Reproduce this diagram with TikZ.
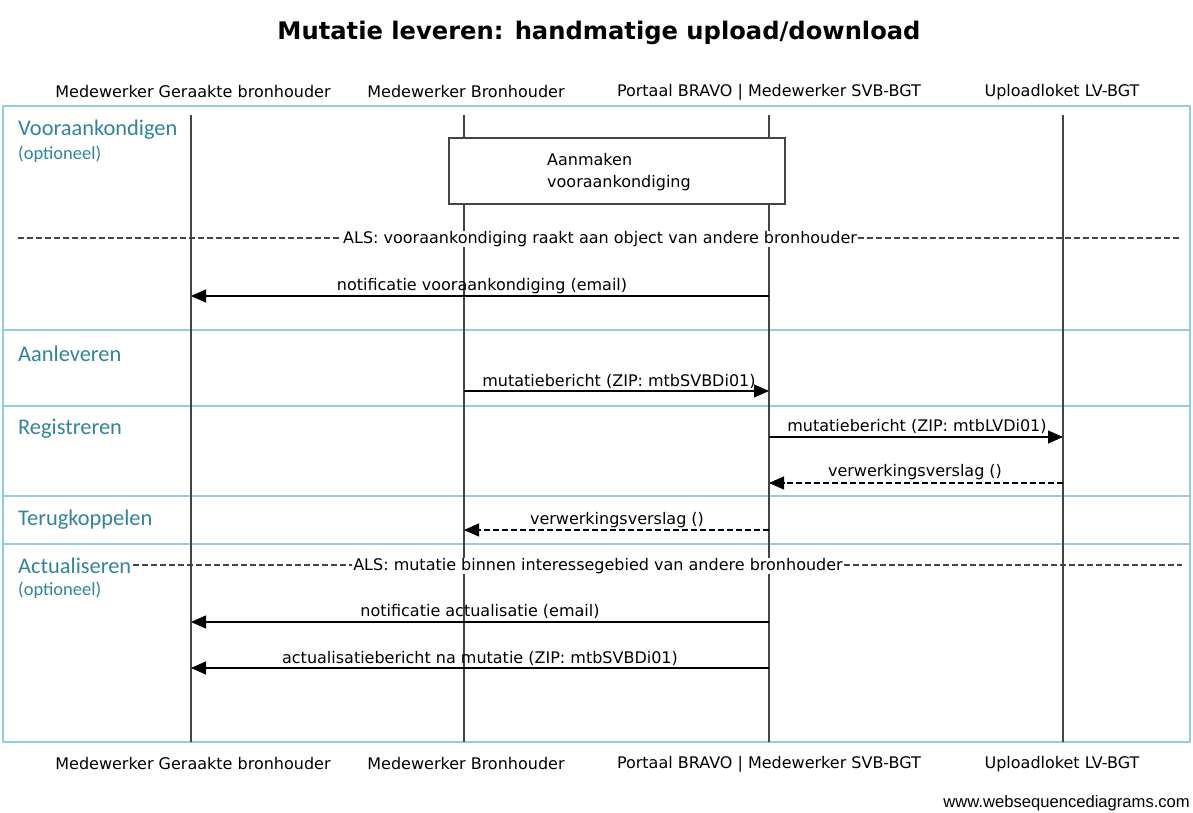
\documentclass[tikz,border=0pt]{standalone}
\usepackage{fontspec}
\setmainfont{DejaVu Sans}
\newfontfamily\secfont{Carlito}
\newfontfamily\footfont{Liberation Sans}
\usetikzlibrary{arrows.meta}
\definecolor{frameblue}{HTML}{92CDDC}
\definecolor{secteal}{HTML}{31849B}
\definecolor{linegray}{HTML}{444444}
\tikzset{
  lifeline/.style={draw=linegray, line width=1.3pt},
  partlabel/.style={font=\fontsize{16}{18}\selectfont, inner sep=0pt, anchor=center},
  msg/.style={draw=black, line width=1.1pt, -{Triangle[length=15pt,width=13pt]}},
  reply/.style={msg, dash pattern=on 6pt off 3pt},
  msglabel/.style={font=\fontsize{16}{18}\selectfont, inner sep=0pt, anchor=center},
  altline/.style={draw=linegray, line width=1.1pt, dash pattern=on 6pt off 3pt},
  seclabel/.style={font=\secfont\fontsize{22.4}{24}\selectfont, text=secteal, inner sep=0pt, anchor=west},
  secsub/.style={font=\secfont\fontsize{18.5}{20}\selectfont, text=secteal, inner sep=0pt, anchor=west},
  sep/.style={draw=frameblue, line width=1.5pt},
}
\begin{document}
\begin{tikzpicture}[x=1pt,y=-1pt]
\useasboundingbox (0,0) rectangle (1193,813);
% title
\node[font=\bfseries\fontsize{24.2}{28}\selectfont, inner sep=0pt] (title) at (599,33) {Mutatie leveren: handmatige upload/download};
% frame
\draw[sep] (3,106) rectangle (1190,742);
\foreach \yy in {330,406,496,544} \draw[sep] (3,\yy) -- (1190,\yy);
% lifelines
\foreach \n/\xx in {a/191,b/464,c/769,d/1063} {
  \coordinate (\n top) at (\xx,115);
  \coordinate (\n bot) at (\xx,742);
  \draw[lifeline] (\n top) -- (\n bot);
}
% participant labels
\node[partlabel] (pa1) at (193,92) {Medewerker Geraakte bronhouder};
\node[partlabel] (pb1) at (466,92) {Medewerker Bronhouder};
\node[partlabel] (pc1) at (769,92) {Portaal BRAVO | Medewerker SVB-BGT};
\node[partlabel] (pd1) at (1062,92) {Uploadloket LV-BGT};
\node[partlabel] (pa2) at (193,764) {Medewerker Geraakte bronhouder};
\node[partlabel] (pb2) at (466,764) {Medewerker Bronhouder};
\node[partlabel] (pc2) at (769,764) {Portaal BRAVO | Medewerker SVB-BGT};
\node[partlabel] (pd2) at (1062,764) {Uploadloket LV-BGT};
% section labels
\node[seclabel] (s1) at (18,130) {Vooraankondigen};
\node[secsub] (s1b) at (18,154) {(optioneel)};
\node[seclabel] (s2) at (18,354) {Aanleveren};
\node[seclabel] (s3) at (18,429) {Registreren};
\node[seclabel] (s4) at (18,520) {Terugkoppelen};
\node[seclabel] (s5) at (18,566) {Actualiseren};
\node[secsub] (s5b) at (18,590) {(optioneel)};
% action box
\node[draw=linegray, line width=1.1pt, fill=white, minimum width=336pt, minimum height=66pt, inner sep=0pt] (box) at (617,171) {};
\node[font=\fontsize{16}{22}\selectfont, align=left, anchor=west, inner sep=0pt] (boxtxt) at (547,172) {Aanmaken\\vooraankondiging};
% alt 1
\node[msglabel, fill=white, inner xsep=1pt] (alt1) at (600,239) {ALS: vooraankondiging raakt aan object van andere bronhouder};
\coordinate (alt1l) at (18,238);
\coordinate (alt1r) at (1182,238);
\draw[altline] (alt1l) -- (alt1l -| alt1.west);
\draw[altline] (alt1r -| alt1.east) -- (alt1r);
% messages
\coordinate (m1s) at (769,296); \coordinate (m1e) at (191,296);
\draw[msg] (m1s) -- (m1e);
\node[msglabel] (l1) at (482,286) {notificatie vooraankondiging (email)};
\coordinate (m2s) at (464,391); \coordinate (m2e) at (769,391);
\draw[msg] (m2s) -- (m2e);
\node[msglabel] (l2) at (619,381) {mutatiebericht (ZIP: mtbSVBDi01)};
\coordinate (m3s) at (769,437); \coordinate (m3e) at (1063,437);
\draw[msg] (m3s) -- (m3e);
\node[msglabel] (l3) at (917,426) {mutatiebericht (ZIP: mtbLVDi01)};
\coordinate (m4s) at (1063,483); \coordinate (m4e) at (769,483);
\draw[reply] (m4s) -- (m4e);
\node[msglabel] (l4) at (915,472) {verwerkingsverslag ()};
\coordinate (m5s) at (769,530); \coordinate (m5e) at (464,530);
\draw[reply] (m5s) -- (m5e);
\node[msglabel] (l5) at (617,520) {verwerkingsverslag ()};
% alt 2
\node[msglabel, fill=white, inner xsep=1pt] (alt2) at (598,566) {ALS: mutatie binnen interessegebied van andere bronhouder};
\coordinate (alt2l) at (133,565);
\coordinate (alt2r) at (1182,565);
\draw[altline] (alt2l) -- (alt2l -| alt2.west);
\draw[altline] (alt2r -| alt2.east) -- (alt2r);
\coordinate (m6s) at (769,622); \coordinate (m6e) at (191,622);
\draw[msg] (m6s) -- (m6e);
\node[msglabel] (l6) at (480,611) {notificatie actualisatie (email)};
\coordinate (m7s) at (769,668); \coordinate (m7e) at (191,668);
\draw[msg] (m7s) -- (m7e);
\node[msglabel] (l7) at (480,658) {actualisatiebericht na mutatie (ZIP: mtbSVBDi01)};
% footer
\node[font=\footfont\fontsize{16.6}{18}\selectfont, anchor=east, inner sep=0pt] (foot) at (1190,803) {www.websequencediagrams.com};
\end{tikzpicture}
\end{document}
